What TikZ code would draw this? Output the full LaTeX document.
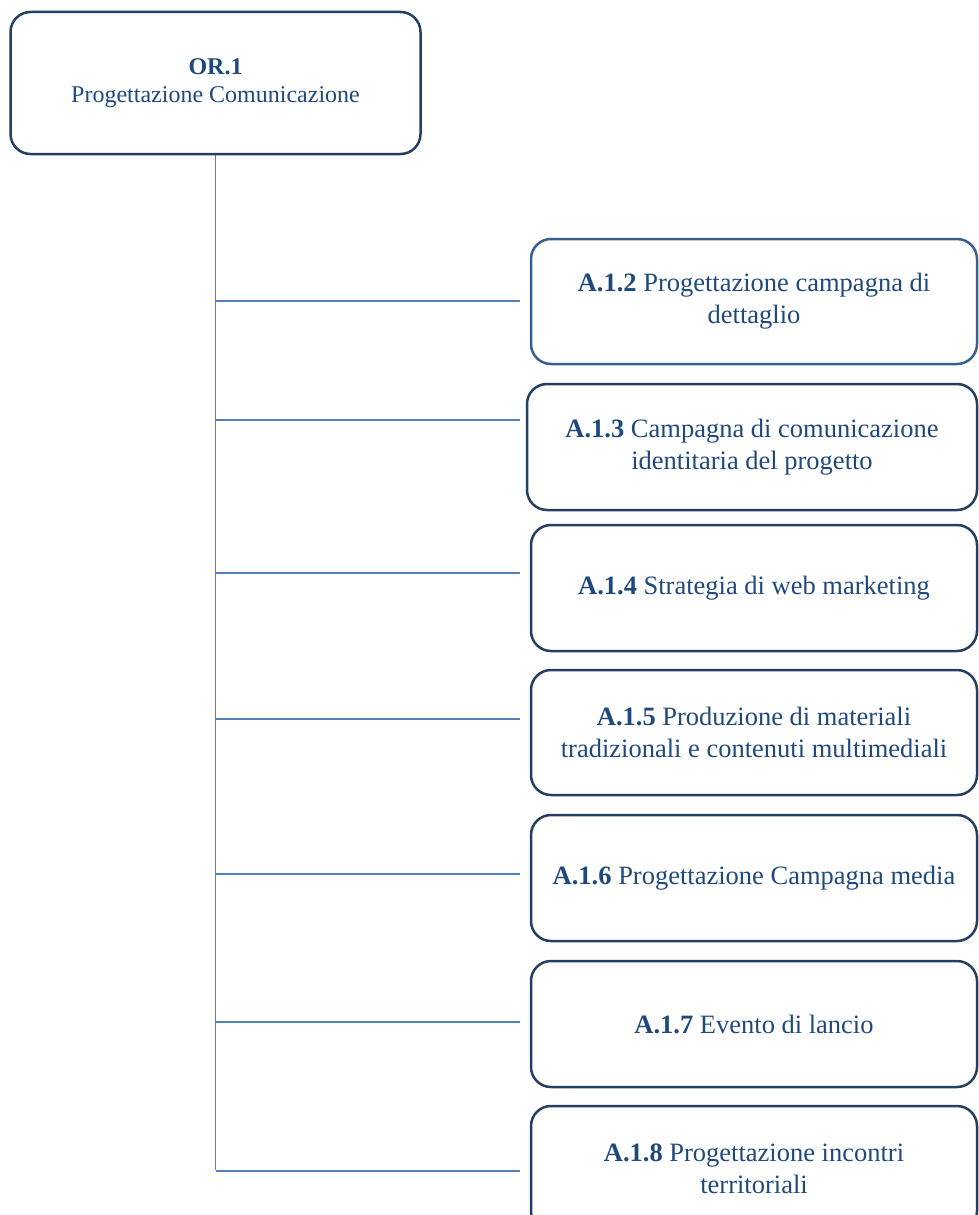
\documentclass[tikz,border=0pt]{standalone}
\usepackage{fontspec}
\setmainfont{Liberation Serif}
\usepackage{tikz}
\definecolor{navy}{HTML}{243F60}
\definecolor{navylight}{HTML}{3A5F8F}
\definecolor{textblue}{HTML}{1F497D}
\definecolor{linkblue}{HTML}{4F81BD}
\tikzset{
  orbox/.style={draw=navy, line width=2.5pt, rounded corners=20pt,
    minimum width=410pt, minimum height=142pt, align=center,
    text=textblue, font=\fontsize{24}{27.5}\selectfont},
  actbox/.style={draw=navy, line width=2.5pt, rounded corners=20pt,
    minimum width=446pt, minimum height=125pt, align=center,
    text=textblue, font=\fontsize{26.5}{32}\selectfont},
  link/.style={draw=linkblue, line width=1.6pt}
}

\begin{document}
\begin{tikzpicture}[x=1pt, y=-1pt]
    \useasboundingbox (0,0) rectangle (979,1215);
    \clip (0,0) rectangle (979,1215);
    \node[orbox] (or1) at (215.5,83) {\textbf{OR.1}\\Progettazione Comunicazione};
    \node[actbox, draw=navylight] (a12) at (754,301.5) {\textbf{A.1.2} Progettazione campagna di\\dettaglio};
    \node[actbox, minimum width=450pt, minimum height=126pt] (a13) at (752,447) {\textbf{A.1.3} Campagna di comunicazione\\identitaria del progetto};
    \node[actbox, minimum height=126pt] (a14) at (754,588) {\textbf{A.1.4} Strategia di web marketing};
    \node[actbox] (a15) at (754,732.5) {\textbf{A.1.5} Produzione di materiali\\tradizionali e contenuti multimediali};
    \node[actbox, minimum height=126pt] (a16) at (754,878) {\textbf{A.1.6} Progettazione Campagna media};
    \node[actbox, minimum height=126pt] (a17) at (754,1024) {\textbf{A.1.7} Evento di lancio};
    \node[actbox] (a18) at (754,1168.5) {\textbf{A.1.8} Progettazione incontri\\territoriali};
    % vertical line
    \coordinate (tend) at (215.5,1170);
    \draw[link] (or1.south) -- (tend);
    % horizontal lines
    \coordinate (t12) at (215.5,301);  \coordinate (e12) at (520,301);
    \coordinate (t13) at (215.5,420);  \coordinate (e13) at (520,420);
    \coordinate (t14) at (215.5,573);  \coordinate (e14) at (520,573);
    \coordinate (t15) at (215.5,719);  \coordinate (e15) at (520,719);
    \coordinate (t16) at (215.5,874);  \coordinate (e16) at (520,874);
    \coordinate (t17) at (215.5,1022); \coordinate (e17) at (520,1022);
    \coordinate (t18) at (215.5,1171); \coordinate (e18) at (520,1171);
    \draw[link] (t12) -- (e12);
    \draw[link] (t13) -- (e13);
    \draw[link] (t14) -- (e14);
    \draw[link] (t15) -- (e15);
    \draw[link] (t16) -- (e16);
    \draw[link] (t17) -- (e17);
    \draw[link] (t18) -- (e18);
\end{tikzpicture}
\end{document}
